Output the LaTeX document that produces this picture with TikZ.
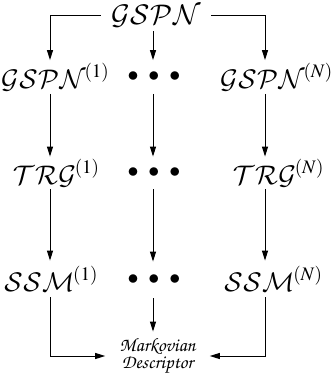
\documentclass[tikz,border=0pt]{standalone}
\usepackage{mathptmx}
\usetikzlibrary{arrows.meta}
% Script capitals for the model names
\DeclareMathAlphabet{\mathpcal}{OMS}{zplm}{m}{n}
\newcommand{\modelname}[2]{$\mathpcal{#1}^{\rlap{$\scriptstyle\mkern-1.5mu(#2)$}}$}
\newcommand{\chancery}{\usefont{OT1}{pzc}{m}{it}}
\begin{document}
\begin{tikzpicture}[x=0.5pt,y=-0.5pt,
  lvl/.style={inner xsep=0pt,inner ysep=0pt,minimum height=16.5pt,font=\fontsize{12.9}{15}\selectfont},
  dots/.style={lvl,font=\fontsize{11}{13}\selectfont},
  arr/.style={-{Triangle[length=5pt,width=3pt]},line width=0.5pt}]
\useasboundingbox (0,0) rectangle (331,383);
% column positions of the connectors
\coordinate (c1) at (50,0);
\coordinate (c2) at (153,0);
\coordinate (c3) at (265,0);
% top model
\node[lvl,inner xsep=5pt,minimum height=15pt,font=\fontsize{13.6}{16}\selectfont] (top) at (156,16) {$\mathpcal{GSPN}$};
% row of decomposed nets
\node[lvl] (g1) at (44,77) {\modelname{GSPN}{1}};
\node[dots] (gd) at (154,77) {$\bullet\hspace{3.4pt}\bullet\hspace{3.4pt}\bullet$};
\node[lvl] (gN) at (263,77) {\modelname{GSPN}{N}};
% row of reachability graphs
\node[lvl,minimum height=16pt] (t1) at (45,173) {\modelname{TRG}{1}};
\node[dots,minimum height=16pt] (td) at (154,173) {$\bullet\hspace{3.4pt}\bullet\hspace{3.4pt}\bullet$};
\node[lvl,minimum height=16pt] (tN) at (265,173) {\modelname{TRG}{N}};
% row of state space models
\node[lvl,minimum height=18pt] (s1) at (40,279) {\modelname{SSM}{1}};
\node[dots,minimum height=18pt] (sd) at (154,280) {$\bullet\hspace{3.4pt}\bullet\hspace{3.4pt}\bullet$};
\node[lvl,minimum height=18pt] (sN) at (260,279) {\modelname{SSM}{N}};
% result
\node[align=center,inner xsep=7pt,inner ysep=0pt,minimum height=24pt,font=\chancery\fontsize{9.6}{6.5}\selectfont] (md) at (157.5,356) {Markovian\\Descriptor};
% connectors
\draw[arr] (top.west) -| (g1.north -| c1);
\draw[arr] (top.south -| c2) -- (gd.north -| c2);
\draw[arr] (top.east) -| (gN.north -| c3);
\draw[arr] (g1.south -| c1) -- (t1.north -| c1);
\draw[arr] (gd.south -| c2) -- (td.north -| c2);
\draw[arr] (gN.south -| c3) -- (tN.north -| c3);
\draw[arr] (t1.south -| c1) -- (s1.north -| c1);
\draw[arr] (td.south -| c2) -- (sd.north -| c2);
\draw[arr] (tN.south -| c3) -- (sN.north -| c3);
\draw[arr] (s1.south -| c1) |- (md.west);
\draw[arr] (sd.south -| c2) -- (md.north -| c2);
\draw[arr] (sN.south -| c3) |- (md.east);
\end{tikzpicture}
\end{document}
